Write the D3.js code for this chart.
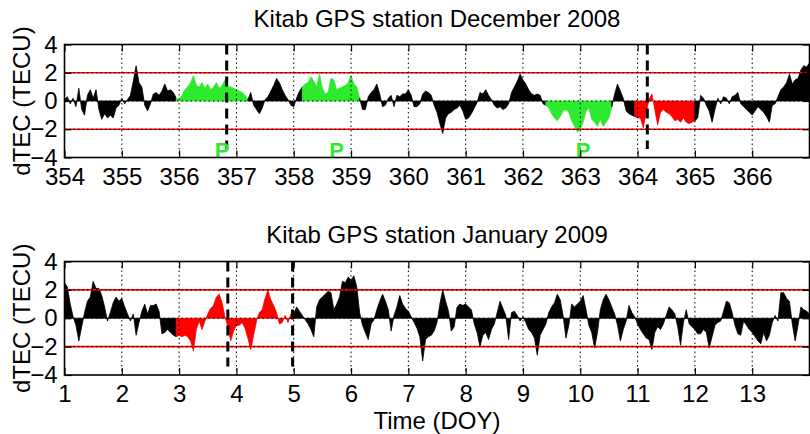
<!DOCTYPE html>
<html lang="en">
<head>
<meta charset="utf-8">
<title>Kitab GPS station dTEC</title>
<script src="https://cdn.jsdelivr.net/npm/d3@7"></script>
<style>
  body { margin: 0; background: #fff; }
  svg { font-family: "Liberation Sans", Arial, sans-serif; }
</style>
</head>
<body>
<div id="chart"></div>
<script>
// dTEC samples every 0.05 day
var step = 0.05;

// December 2008, DOY 354.00 .. 367.00
var decStart = 354;
var decTec = [
  0.1, 0.3, -0.2, 0.2, -0.4, 0.9, -0.6, -1.0, 0.4, 0.8, 0.2, 0.8, -0.6, -1.3, -0.9, -1.2, -1.0, -1.2, -0.5, -0.3,
  0.2, -0.2, 0.1, 0.4, 1.4, 2.5, 1.3, 1.0, -0.3, -0.7, -0.2, 0.5, 0.6, 0.4, 0.7, 1.2, 0.7, 0.8, 0.6, 0.2,
  0.1, 0.4, 0.8, 1.0, 1.3, 1.8, 1.1, 1.0, 1.3, 0.9, 1.2, 0.8, 1.0, 1.3, 0.9, 1.1, 1.5, 1.0, 1.0, 0.9,
  0.8, 0.7, 0.6, 0.4, 0.1, 0.6, -0.3, -0.6, -0.9, -0.5, 0.1, 0.3, 0.7, 1.1, 1.6, 1.3, 0.8, 0.4, 0.1, -0.3,
  -0.4, 0.2, 0.7, 1.0, 1.2, 1.3, 1.7, 1.4, 1.0, 1.9, 0.9, 0.5, 0.6, 1.6, 1.5, 0.8, 0.9, 1.0, 1.1, 1.3,
  1.8, 1.2, 1.0, 0.2, -0.6, -0.6, 0.3, 0.6, 0.8, 1.2, 0.5, -0.4, -0.3, 0.2, 0.4, -0.4, 0.4, 0.3, 0.5, 0.5,
  0.8, 0.4, -0.4, -0.4, -0.2, 0.5, 0.7, 0.6, 0.4, -0.3, -0.8, -1.6, -2.3, -1.2, -0.9, -0.8, -0.6, -0.5, -0.3, -0.7,
  -1.3, -1.2, -0.9, -0.5, -0.1, 0.6, 0.5, 0.8, 0.4, 0.1, -0.3, -0.5, -0.4, -0.6, -0.5, -0.2, 0.6, 1.0, 1.4, 1.9,
  1.5, 1.2, 0.8, 0.5, 0.4, 0.5, 0.4, -0.2, -0.3, -0.5, -0.9, -1.2, -1.4, -1.1, -0.7, -0.6, -0.8, -1.4, -1.8, -2.2,
  -2.0, -1.5, -0.7, -0.5, -1.3, -1.5, -1.8, -1.3, -1.8, -1.5, -1.2, -0.4, 0.5, 1.2, 0.7, 0.2, -0.7, -0.9, -1.0, -1.1,
  -1.2, -1.2, -1.9, -0.8, 0.1, 0.5, -0.6, -1.7, -0.8, -0.6, -0.8, -0.9, -1.1, -1.4, -1.3, -1.5, -1.2, -1.5, -1.6, -1.5,
  -1.4, -1.2, 0.4, 0.2, -0.3, -0.7, -1.5, -0.6, 0.2, -0.2, 0.3, 0.2, -0.2, 0.3, 0.4, 0.6, -0.2, -0.4, -0.6, -0.8,
  -1.0, -0.7, -0.4, -0.6, -0.8, -1.1, -1.5, -0.3, -0.2, 0.3, 0.8, 1.0, 1.3, 1.9, 1.2, 1.5, 1.6, 2.2, 2.5, 2.4,
  2.7
];
var decGreen = [[356.0, 357.2], [358.2, 359.15], [362.42, 363.55]];
var decRed = [[364.0, 365.0]];
var decEvents = [356.83, 364.17];
var decP = [356.75, 358.75, 363.05];

// January 2009, DOY 1.00 .. 14.00
var janStart = 1;
var janTec = [
  2.5, 2.2, 1.0, 0.1, -0.5, -1.6, -0.6, 0.4, 1.2, 1.5, 2.6, 2.1, 2.1, 1.6, 0.8, -0.2, 0.4, 1.1, 1.5, 1.2,
  1.4, 0.8, 0.3, -0.2, 0.3, -1.2, -0.3, 0.5, 1.0, 0.3, 0.9, 0.9, 1.0, 0.5, -1.1, -1.0, -0.8, -1.0, -1.2, -1.3,
  -1.2, -1.3, -1.2, -1.3, -1.6, -2.3, -0.8, -0.2, -0.8, -0.2, 0.3, 0.7, 0.9, 1.5, 1.7, 1.1, 0.1, -0.6, -1.6, -0.9,
  -0.5, -0.5, -0.3, -0.7, -1.4, -2.2, -1.2, -0.2, 0.4, 0.6, 1.4, 2.0, 1.3, 0.9, 0.4, -0.4, -0.3, 0.2, -0.3, 0.3,
  0.3, 0.8, 0.5, 0.2, -0.1, -0.4, -0.8, -1.3, 0.8, 1.3, 1.5, 1.7, 1.9, 1.8, 0.6, 1.0, 1.5, 2.6, 2.5, 2.9,
  2.7, 3.0, 2.2, 0.4, -0.5, -1.0, -1.5, -0.4, -0.1, 0.6, 1.2, 1.7, 1.2, 0.6, -0.9, 0.2, 0.8, 1.6, 1.0, 0.7,
  0.5, 0.1, -0.3, -0.7, -1.3, -3.0, -1.5, -1.3, -1.2, -0.9, -0.3, 1.0, 2.0, 1.2, 0.5, -0.9, -0.6, 0.8, 1.0, 0.9,
  1.0, 0.8, 0.6, -0.4, -1.0, -2.0, -1.2, -1.0, -1.5, -0.8, -0.4, 0.4, 1.2, 0.7, 0.2, -1.5, 0.4, 0.5, 0.2, -0.2,
  0.1, -0.3, -0.8, -1.0, -1.4, -2.6, -1.2, -0.8, -0.4, 0.4, 0.8, 1.1, 1.7, 1.3, 0.2, -1.4, -0.5, 1.0, 0.8, 1.0,
  1.2, 1.6, 0.6, -0.5, -1.0, -2.1, -1.0, 0.6, 1.3, 1.7, 1.3, 0.8, 0.3, -0.5, -1.6, -0.8, -0.2, 0.9, 0.4, 0.1,
  -0.4, -0.8, -1.1, -1.4, -1.5, -2.2, -1.0, -0.6, -0.8, -0.4, 0.2, 0.8, 0.6, 0.3, -0.6, -1.9, -0.3, 0.6, -0.4, -0.6,
  -0.8, -1.1, -1.1, -0.8, -1.0, -2.1, -1.3, -0.5, -0.3, -0.2, 0.5, 1.2, 1.1, 0.4, -0.5, -1.1, -1.2, -0.2, -0.5, -0.8,
  -1.0, -1.3, -1.6, -1.8, -1.0, -1.6, -1.2, -0.3, 0.2, -0.2, 1.8, 1.8, 1.4, 1.2, -0.4, -1.6, -0.5, 0.8, 0.6, 0.5,
  0.3
];
var janGreen = [];
var janRed = [[3.0, 5.0]];
var janEvents = [3.85, 4.98];
var janP = [];

var yTicks = [-4, -2, 0, 2, 4];
var threshold = 2;

var green = "#2eea2e", red = "#ff0000";
var fontPx = 24;

var svg = d3.select("#chart").append("svg")
  .attr("width", 810).attr("height", 434);

function colorOf(t, greens, reds) {
  for (var i = 0; i < greens.length; i++) if (t >= greens[i][0] && t <= greens[i][1]) return green;
  for (var j = 0; j < reds.length; j++) if (t >= reds[j][0] && t <= reds[j][1]) return red;
  return "#000";
}

function panel(o) {
  var left = 64.5, right = 809.5;
  var w = right - left, h = o.bottom - o.top;
  var x = d3.scaleLinear().domain([o.start, o.start + 13]).range([0, w]);
  var y = d3.scaleLinear().domain([-4, 4]).range([h, 0]);

  var g = svg.append("g").attr("transform", "translate(" + left + "," + o.top + ")");

  g.append("clipPath").attr("id", o.id)
    .append("rect").attr("width", w).attr("height", h);

  var pts = o.values.map(function(v, i) {
    var t = o.start + i * step;
    return { t: t, v: v, c: colorOf(t, o.green, o.red) };
  });

  // split into runs of one colour, sharing the joining sample
  var runs = [], cur = null;
  pts.forEach(function(d, i) {
    if (!cur || cur.c !== d.c) {
      cur = { c: d.c, pts: i > 0 ? [pts[i - 1], d] : [d] };
      runs.push(cur);
    } else cur.pts.push(d);
  });

  var area = d3.area()
    .x(function(d) { return x(d.t); })
    .y0(y(0))
    .y1(function(d) { return y(d.v); });

  var data = g.append("g").attr("clip-path", "url(#" + o.id + ")");
  data.selectAll("path").data(runs).enter().append("path")
    .attr("d", function(r) { return area(r.pts); })
    .attr("fill", function(r) { return r.c; })
    .attr("stroke", function(r) { return r.c; })
    .attr("stroke-width", 0.8)
    .attr("stroke-linejoin", "miter");

  // threshold lines
  g.selectAll(".thr").data([threshold, -threshold]).enter().append("line")
    .attr("x1", 0).attr("x2", w)
    .attr("y1", function(d) { return y(d); }).attr("y2", function(d) { return y(d); })
    .attr("stroke", red).attr("stroke-width", 1.6);

  // dotted grid
  var xt = d3.range(o.start, o.start + 13);
  g.selectAll(".gx").data(xt.slice(1)).enter().append("line")
    .attr("x1", function(d) { return x(d); }).attr("x2", function(d) { return x(d); })
    .attr("y1", 0).attr("y2", h)
    .attr("stroke", "#000").attr("stroke-width", 1).attr("stroke-dasharray", "1.5,3");
  g.selectAll(".gy").data([-2, 0, 2]).enter().append("line")
    .attr("x1", 0).attr("x2", w)
    .attr("y1", function(d) { return y(d); }).attr("y2", function(d) { return y(d); })
    .attr("stroke", "#000").attr("stroke-width", 1).attr("stroke-dasharray", "1.5,3");

  // event markers
  g.selectAll(".ev").data(o.events).enter().append("line")
    .attr("x1", function(d) { return x(d); }).attr("x2", function(d) { return x(d); })
    .attr("y1", y(4)).attr("y2", y(-3.4))
    .attr("stroke", "#000").attr("stroke-width", 3).attr("stroke-dasharray", "10,6");

  g.selectAll(".pl").data(o.p).enter().append("text")
    .attr("x", function(d) { return x(d); }).attr("y", y(-4))
    .attr("text-anchor", "middle")
    .attr("font-size", 22).attr("font-weight", "bold")
    .attr("fill", green).text("P");

  // axes, ticks inside
  g.append("g").attr("transform", "translate(0," + h + ")")
    .call(d3.axisBottom(x).tickValues(xt).tickFormat(d3.format("d"))
      .tickSizeInner(-7).tickSizeOuter(0).tickPadding(10));
  g.append("g").call(d3.axisTop(x).tickValues(xt).tickFormat("").tickSizeInner(-7).tickSizeOuter(0));
  g.append("g")
    .call(d3.axisLeft(y).tickValues(yTicks).tickSizeInner(-7).tickSizeOuter(0).tickPadding(7));
  g.append("g").attr("transform", "translate(" + w + ",0)")
    .call(d3.axisRight(y).tickValues(yTicks).tickFormat("").tickSizeInner(-7).tickSizeOuter(0));

  g.selectAll(".domain").remove();
  g.selectAll(".tick line").attr("stroke", "#000").attr("stroke-width", 1.2);
  g.selectAll(".tick text").attr("font-size", fontPx).attr("fill", "#000")
    .attr("font-family", "Liberation Sans, Arial, sans-serif");

  g.append("rect").attr("width", w).attr("height", h)
    .attr("fill", "none").attr("stroke", "#000").attr("stroke-width", 1.6);

  svg.append("text")
    .attr("x", left + w / 2).attr("y", o.titleY)
    .attr("text-anchor", "middle").attr("font-size", fontPx)
    .text(o.title);

  svg.append("text")
    .attr("transform", "translate(30," + (o.top + h / 2) + ") rotate(-90)")
    .attr("text-anchor", "middle").attr("font-size", fontPx)
    .text("dTEC (TECU)");
}

panel({ id: "clipDec", start: decStart, values: decTec, green: decGreen, red: decRed,
  events: decEvents, p: decP, top: 44.5, bottom: 157.5, titleY: 27,
  title: "Kitab GPS station December 2008" });

panel({ id: "clipJan", start: janStart, values: janTec, green: janGreen, red: janRed,
  events: janEvents, p: janP, top: 261.5, bottom: 375, titleY: 243,
  title: "Kitab GPS station January 2009" });

svg.append("text")
  .attr("x", 437).attr("y", 429)
  .attr("text-anchor", "middle").attr("font-size", fontPx)
  .text("Time (DOY)");
</script>
</body>
</html>
